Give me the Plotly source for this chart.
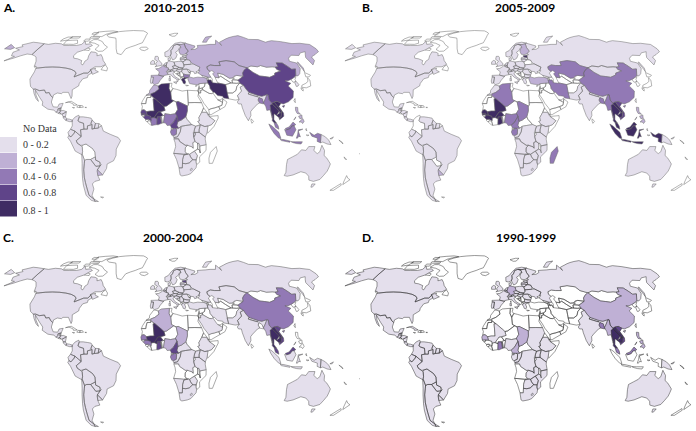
import plotly.graph_objects as go

BINS = ["0 - 0.2", "0.2 - 0.4", "0.4 - 0.6", "0.6 - 0.8", "0.8 - 1"]
BIN_COLORS = ["#e4dfec", "#bfb0d5", "#9279b5", "#5f4489", "#3f2c63"]
TITLES = ["2010-2015", "2005-2009", "2000-2004", "1990-1999"]
TAGS = ["A.", "B.", "C.", "D."]

PANEL_A = [
 "CAN USA AK MEX GTM BLZ HND NIC CRI PAN COL VEN GUY SUR ECU PER BRA PRY ARG CHL NOR SWE DNK GBR IRL DEU NLD BEL AUT CHE POL CZE SVK HUN ITA SIC SAR PRT UKR BLR LTU LVA EST ROU IND NPL ETH KEN UGA RWA CAF COG COD AGO TZA NAM ZWE BWA ZAF LSO AUS TAS PNG NBR SLV KOR",
 "FIN FRA COR ESP URY RUS CHU SAK NZM KAZ TUR MAR PHL PHL2 PHL3 PHL4",
 "BGR MMR MYS MYS2 SUM JAV BOR CEL NGI NGA GAB CIV BGD SUN",
 "CHN HAI TCD SEN GIN GMB GHA CMR",
 "IRN DZA MLI BFA THA LAO KHM VNM GRC",
]
PANEL_B = [
 "CAN USA AK MEX GTM BLZ HND NIC CRI PAN VEN GUY SUR ECU PER BRA BOL ARG CHL NOR SWE DNK GBR IRL DEU NLD BEL AUT CHE POL CZE SVK HUN ITA SIC SAR PRT ESP FRA COR UKR LTU LVA ROU BGR GRC RUS CHU SAK NZM MNG PAK IND NPL MAR ETH KEN UGA COG COD AGO TZA ZMB NAM ZWE MOZ BWA ZAF LSO AUS TAS PNG NBR",
 "FIN URY TUR PHL PHL2 PHL3 PHL4",
 "KAZ CHN HAI IRN MMR BGD DZA NGA TCD CMR GAB MDG",
 "VNM",
 "EST THA LAO KHM MYS MYS2 SUM JAV BOR CEL NGI SUN MLI SEN GMB GIN BFA GHA",
]
PANEL_C = [
 "CAN USA AK MEX GTM BLZ HND NIC CRI PAN SLV COL VEN GUY SUR GUF ECU PER BRA BOL PRY URY ARG CHL NOR SWE FIN DNK GBR IRL DEU NLD BEL FRA COR ESP PRT ITA SIC SAR AUT CHE POL CZE SVK HUN ROU BGR GRC UKR BLR LTU LVA HRV SRB RUS CHU SAK NZM KAZ TUR IRN PAK IND NPL SAU ETH KEN UGA COG COD TZA ZWE NAM BWA ZAF LSO CAF AUS TAS PNG NBR SUM JAV BOR CEL NGI SUN",
 "DZA NGA TCD MMR",
 "CHN HAI SEN GIN GAB",
 "EST VNM MYS MYS2 GHA CMR",
 "MLI BFA THA LAO KHM",
]
PANEL_D = [
 "CAN USA AK MEX GTM BLZ HND NIC CRI PAN SLV CUB COL VEN GUY SUR GUF ECU PER BRA BOL PRY URY ARG CHL NOR SWE FIN DNK GBR IRL NLD BEL FRA COR ESP PRT ITA SIC SAR AUT CHE POL CZE SVK HUN ROU BGR GRC UKR BLR LTU LVA EST RUS CHU SAK NZM IND NPL MLI NGA SDN ETH KEN UGA COD TZA ZMB ZWE BWA ZAF LSO MOZ GAB COG AUS TAS PNG NBR",
 "CHN HAI DEU MMR PHL PHL2 PHL3 PHL4 SEN TCD CMR",
 "GHA MYS MYS2 BGD",
 "VNM",
 "THA LAO KHM",
]
PANELS = [PANEL_A, PANEL_B, PANEL_C, PANEL_D]

SHAPES = {
"CAN":[(-141,69.6),(-135,69),(-128,70),(-120,69.5),(-115,68),(-108,68),(-100,68),(-95,69),(-94,72),(-90,69),(-85,69.5),(-81,68),(-87,64),(-93,62),(-94.5,59),(-92.5,57),(-88,56.5),(-82.5,55),(-82,53),(-80,51.5),(-79,52),(-79,54.5),(-77,56),(-78,59),(-78,62.4),(-73,62),(-70,61),(-69,59),(-65,60),(-62,57.5),(-60,55),(-56,52),(-60,50),(-66,50),(-70,47.5),(-65,49),(-65,47.5),(-61,46),(-66,44),(-67,45),(-69,47.3),(-71,45),(-75,45),(-79,43.5),(-83,42),(-82.5,45),(-84.5,46.5),(-89,48),(-95,49),(-123,49),(-128,51),(-130,54.5),(-134,58),(-137,59),(-141,60)],
"USA":[(-123,49),(-95,49),(-89,48),(-84.5,46.5),(-82.5,45),(-83,42),(-79,43.5),(-75,45),(-71,45),(-69,47.3),(-67,45),(-70,43.5),(-70,41.5),(-74,40.5),(-76,37),(-76,35),(-81,32),(-80,27),(-80.5,25.2),(-82.5,28),(-84,30),(-89,30),(-90,29),(-94,29.5),(-97,28),(-97.2,26),(-99.5,27.5),(-101.5,29.8),(-104.5,29.5),(-106.5,31.8),(-111,31.3),(-114.8,32.5),(-117.1,32.5),(-120.5,34.5),(-122.5,37.5),(-124.3,40.3),(-124,46),(-124.7,48.4)],
"AK":[(-141,69.6),(-141,60),(-147,60.5),(-152,59),(-157,57),(-164,54.8),(-158,58.5),(-162,59),(-165,62),(-161,64),(-168,65.5),(-162,67),(-166,68.5),(-157,71),(-150,70.5)],
"MEX":[(-117.1,32.5),(-114.8,32.5),(-111,31.3),(-106.5,31.8),(-104.5,29.5),(-101.5,29.8),(-99.5,27.5),(-97.2,26),(-97.8,22.5),(-95.5,18.8),(-91.5,18.5),(-90.5,21),(-87,21.5),(-88.2,18),(-89.1,17.8),(-91,17.2),(-90.9,16),(-92.2,14.5),(-94.5,16.2),(-100,17),(-105.5,20),(-105.5,22.5),(-109,26),(-112.5,29.5),(-114.7,31.7),(-113,28),(-110,24),(-109.5,23),(-112,25),(-115,29),(-116.5,31.5)],
"GTM":[(-92.2,14.5),(-90.9,16),(-91,17.2),(-89.1,17.8),(-89.2,15.9),(-88.3,15.7),(-89.3,14.4),(-90.3,13.8)],
"BLZ":[(-89.1,17.8),(-88.2,18),(-88.3,16),(-89.2,15.9)],
"SLV":[(-90.3,13.8),(-89.3,14.4),(-87.8,13.4),(-88.5,13.2)],
"HND":[(-89.3,14.4),(-88.3,15.7),(-86,16),(-83.2,15),(-85,14),(-87,13),(-87.8,13.4)],
"NIC":[(-87,13),(-85,14),(-83.2,15),(-83.7,11),(-85.7,11.1)],
"CRI":[(-85.7,11.1),(-83.7,11),(-82.6,9.5),(-83,8.2),(-85.5,10)],
"PAN":[(-83,8.2),(-82.6,9.5),(-80,9.2),(-77.5,8.5),(-77.5,7.3),(-80,7.3)],
"CUB":[(-85,22),(-80,23.1),(-74.2,20.2),(-77.5,19.9),(-78,21),(-82,22.5)],
"HTI":[(-74.4,18.5),(-71.7,18.2),(-71.7,19.8),(-73.5,19.9)],
"DOM":[(-71.7,18.2),(-68.5,18.5),(-69.5,19.7),(-71.7,19.8)],
"JAM":[(-78.3,18.3),(-76.3,18.1),(-77,17.8)],
"PRI":[(-67.2,18.4),(-65.7,18.4),(-66,18)],
"HAW":[(-156,20),(-155,19.7),(-155.7,19)],
"COL":[(-77.5,8.5),(-75,11),(-72,12.3),(-71.5,11),(-72.5,8),(-71,7),(-67.5,6),(-67,1.5),(-70,1),(-69.5,-4.2),(-72,-2.3),(-75,0),(-78.8,1.4),(-77.3,4),(-77.5,7)],
"VEN":[(-71.5,11),(-68,11),(-64,10.5),(-61,10),(-60,8.5),(-61,6),(-60.5,5),(-64,4),(-64,1.5),(-67,1.5),(-67.5,6),(-71,7),(-72.5,8)],
"GUY":[(-60,8.5),(-57,6),(-58,2),(-60,1.5),(-60,5),(-61,6)],
"SUR":[(-57,6),(-54,5.8),(-54.5,2.3),(-58,2)],
"GUF":[(-54,5.8),(-51.7,4.2),(-54.5,2.3)],
"ECU":[(-78.8,1.4),(-75,0),(-75.5,-1.5),(-78.5,-4.5),(-80.3,-3.4),(-81,-1)],
"PER":[(-75,0),(-72,-2.3),(-69.5,-4.2),(-74,-7.5),(-73,-9.5),(-70.5,-11),(-69,-12.5),(-69,-16),(-70,-18.3),(-75.5,-15.5),(-79,-8),(-81.3,-5),(-80.3,-3.4),(-78.5,-4.5),(-75.5,-1.5)],
"BOL":[(-69,-11),(-65.5,-10),(-60,-13.5),(-58,-16.3),(-58,-20),(-62.5,-22),(-66,-22),(-68,-22.8),(-69.5,-18),(-69,-16),(-69,-12.5)],
"BRA":[(-60,5),(-60,1.5),(-58,2),(-54.5,2.3),(-51.7,4.2),(-50,0),(-44,-2.5),(-37,-5),(-35,-7.5),(-39,-14),(-39.5,-19),(-42,-23),(-48,-25.5),(-49,-29),(-53.5,-34),(-57.5,-30),(-53.7,-26),(-54.5,-24),(-58,-22.5),(-58,-20),(-58,-16.3),(-60,-13.5),(-65.5,-10),(-69,-11),(-70.5,-11),(-73,-9.5),(-74,-7.5),(-69.5,-4.2),(-70,1),(-67,1.5),(-64,1.5),(-64,4)],
"PRY":[(-58,-20),(-58,-22.5),(-54.5,-24),(-54.7,-27),(-58.5,-27.3),(-62.5,-22)],
"URY":[(-57.5,-30),(-53.5,-34),(-58,-34.5),(-58,-31)],
"ARG":[(-66,-22),(-62.5,-22),(-58.5,-27.3),(-54.7,-27),(-53.7,-26),(-57.5,-30),(-58,-34.5),(-57,-38),(-62,-39),(-65,-41),(-65,-45),(-69,-50),(-68.5,-53),(-65,-55),(-68.5,-55),(-68.5,-53),(-72,-50),(-71.5,-44),(-71,-36),(-70,-30),(-68.5,-25),(-68,-22.8)],
"CHL":[(-70,-18.3),(-69.5,-18),(-68,-22.8),(-68.5,-25),(-70,-30),(-71,-36),(-71.5,-44),(-72,-50),(-68.5,-53),(-68.5,-55),(-72,-54),(-75,-50),(-74,-42),(-73,-37),(-71.5,-30),(-70.5,-25)],
"FLK":[(-61,-51.3),(-58,-51.4),(-59,-52.2)],
"GRL":[(-73,78),(-68,76),(-58,75),(-54,70),(-51,65),(-48,61),(-43,60),(-40,65),(-30,68),(-22,70.5),(-20,75),(-18,80),(-25,83),(-40,83.5),(-60,82),(-68,80)],
"BAF":[(-80,73.5),(-72,71.5),(-68,69),(-62,66.5),(-65,63),(-70,62.8),(-75,64.5),(-73,68),(-80,70),(-88,71),(-85,73.5)],
"VIC":[(-117,69),(-105,69),(-101,70),(-105,73),(-118,72.5)],
"BNK":[(-125,72),(-118,73),(-116,76),(-122,76),(-125,74)],
"ELL":[(-90,77),(-78,76.5),(-75,79),(-62,82),(-70,83),(-90,81.5)],
"DEV":[(-92,75),(-80,74.5),(-80,75.8),(-92,76.5)],
"MEL":[(-117,75),(-106,75),(-106,76.5),(-117,76.5)],
"SOM2":[(-96,72),(-90,72),(-90,74),(-96,74)],
"AXL":[(-95,79),(-88,79),(-88,81),(-95,81)],
"SHI":[(-87,64),(-81,63.5),(-81,65),(-86,66)],
"NFL":[(-59,47.7),(-53,46.7),(-53,49),(-56,51.5),(-58,50)],
"VAN":[(-128.3,50.7),(-125,50),(-123.5,48.4),(-125.5,48.9)],
"ISL":[(-24,65.5),(-22,64),(-18,63.4),(-14,65),(-16,66.5),(-22,66.4)],
"SVA":[(12,78.5),(20,80),(25,80),(20,77),(16,76.8)],
"IRL":[(-10,52),(-6,52),(-6,54.5),(-8,55.2),(-10,54)],
"GBR":[(-5.5,50),(1.5,51.2),(1.7,52.7),(-0.2,54),(-2,56),(-2,57.6),(-3,58.6),(-5.5,58.5),(-6,56),(-3,54.5),(-4.5,53),(-5,52),(-3.5,51.3)],
"NOR":[(5,58.5),(7.5,58),(11,59),(12,61),(12,63.5),(14,65),(16,68),(20,69),(25,68.8),(29,69.5),(31,70.3),(25,71),(18,70),(13,67),(9,63.5),(5,62)],
"SWE":[(11,59),(13,55.5),(14.5,56),(16.5,57),(18.5,60),(17,62),(21,64),(22,65.8),(24,66),(23.5,68),(20,69),(16,68),(14,65),(12,63.5),(12,61)],
"FIN":[(24,66),(22,65),(21,62.5),(22,60.3),(25,60),(28,60.5),(31.5,63),(29.5,66),(29,69.5),(25,68.8),(20.5,69),(23.5,68)],
"DNK":[(8.2,55),(10,55),(10.8,56.3),(10.5,57.6),(8.2,57)],
"DEU":[(6,51),(7,53.5),(9,54.8),(14.2,53.9),(15,51),(12.2,50.3),(13.7,48.6),(10,47.4),(7.6,47.6),(8.2,49),(6.3,49.5)],
"NLD":[(3.5,51.4),(6,51),(7,53.5),(4.8,53)],
"BEL":[(2.6,51),(3.5,51.4),(6,51),(6.3,49.5),(4.5,50)],
"FRA":[(-1.8,43.4),(-1,46),(-4.7,48.4),(-1.5,48.7),(1.5,50.2),(2.6,51),(4.5,50),(6.3,49.5),(8.2,49),(7.6,47.6),(6,46.3),(7.5,43.8),(3.2,43),(3.2,42.4)],
"COR":[(8.6,42),(9.4,43),(9.5,41.5)],
"ESP":[(-9,43.2),(-1.8,43.4),(3.2,42.4),(0,39.5),(-2,36.8),(-5.5,36),(-7.3,37.2),(-7,39),(-6.5,41.8),(-8.8,42)],
"PRT":[(-8.8,42),(-6.5,41.8),(-7,39),(-7.3,37.2),(-9,37),(-9.5,38.8)],
"CHE":[(6,46.3),(7.6,47.6),(10,47.4),(10,46.3),(8,46)],
"ITA":[(7.5,43.8),(7,45.5),(8,46),(10,46.3),(12.5,47),(13.7,45.6),(12.3,44.8),(14,42.3),(18.4,40),(16.7,40),(17,39),(16,38),(15.8,40),(12,42),(10,44)],
"SIC":[(12.5,38),(15.5,38.2),(15,36.7)],
"SAR":[(8.2,39),(9.7,39),(9.5,41),(8.3,41)],
"AUT":[(10,47.4),(13.7,48.6),(17,48.5),(16,46.8),(13.7,46.5),(12.5,47),(10,46.3)],
"POL":[(14.2,53.9),(19,54.4),(23,54.3),(24,52),(24,50.4),(22.5,49),(19,49.4),(15,51)],
"CZE":[(12.2,50.3),(15,51),(18.8,49.6),(17,48.7),(13.7,48.6)],
"SVK":[(17,48.5),(18.8,49.6),(22.5,49),(22,48.4),(18,47.8)],
"HUN":[(16,46.8),(17,48),(18,47.8),(22,48.4),(21,46.2),(18.8,45.9)],
"HRV":[(13.7,45.6),(13.7,46.5),(16,46.8),(18.8,45.9),(19,45),(16,44.8),(18.5,42.5),(15,44.5)],
"BIH":[(16,44.8),(19,45),(19,43),(18.5,42.5)],
"SRB":[(18.8,45.9),(21,46.2),(22.5,44.3),(22.5,42.3),(20.5,42),(19.3,42),(19,43),(19,45)],
"ALB":[(19.3,42),(20.5,42),(21,40.5),(20,39.7),(19.4,40.5)],
"MKD":[(20.5,42),(22.5,42.3),(23,41.3),(21,40.5)],
"GRC":[(20,39.7),(21,40.5),(23,41.3),(26.3,41.5),(24,40.5),(23,40),(24,38),(23,36.5),(21.5,37),(21,38.5)],
"CRT":[(23.5,35.6),(26.2,35.3),(24.5,35)],
"BGR":[(22.5,44.3),(25,43.7),(28.5,43.5),(27.8,42),(26.3,41.5),(23,41.3),(22.5,42.3)],
"ROU":[(21,46.2),(22,48.4),(23,48),(26.5,48.2),(28,45.5),(29.5,45),(28.5,43.5),(25,43.7),(22.5,44.3)],
"MDA":[(26.5,48.2),(29,47.5),(30,46),(28,45.5)],
"UKR":[(24,50.4),(24,51.6),(31,52),(34,52.3),(40,49.7),(38,47),(35,46),(36.5,45.3),(33.5,44.5),(33,46),(30.7,46.4),(29.5,45.4),(28,45.5),(30,46),(29,47.5),(26.5,48.2),(23,48),(22.5,49)],
"BLR":[(24,51.6),(23.5,53.9),(27,55.7),(30.8,55.5),(32,53.2),(31,52)],
"LTU":[(21,55.3),(21,56.3),(25,56.3),(27,55.7),(23.5,53.9),(23,54.3)],
"LVA":[(21,56.3),(21.5,57.5),(24.4,58),(27.7,57.5),(28,56),(27,55.7),(25,56.3)],
"EST":[(23.5,59),(28,59.4),(27.7,57.5),(24.4,58)],
"TUR":[(26.3,40),(26.3,41.5),(28,42),(31.5,41.2),(36,41.8),(41.5,41.5),(43.7,41),(44.5,39.5),(44.7,37.3),(42,37.2),(36,36.7),(36,36),(33,36.1),(30.5,36.3),(27.5,36.8)],
"CYP":[(32.4,34.9),(34.5,35.6),(33.7,34.7)],
"RUS":[(28,59.4),(28,56),(30.8,55.5),(32,53.2),(34,52.3),(40,49.7),(38,47),(39,47),(37,45),(40,43.3),(46,41.8),(48.5,41.8),(47,45),(49,46.3),(47,48),(47,50),(51,51.5),(55,51),(61,51),(61,54),(69,55),(77,54),(80,51),(87,49.2),(92,50.7),(98,50),(102,51),(107,49.7),(113,50),(116,49.8),(119,50),(120,53.2),(126,53),(131,48),(135,48.3),(131,43),(133,42.8),(136,44.5),(140,48.5),(141,53),(135,54.5),(137,57),(143,59.5),(151,59.2),(156,61.5),(163,62.5),(156,57.5),(156,51.5),(162,55),(163,58),(170,60),(178,62.5),(179.9,65),(179.9,68.9),(170,70),(160,69.7),(150,71.5),(140,72.5),(130,71),(125,73.5),(113,73.7),(105,77.5),(90,75.5),(80,73),(73,71),(73,68),(70,73),(66.5,69),(60,69),(54,68.5),(44,68),(44,66.2),(40,64.6),(35,64.3),(40,66.2),(41,67.5),(33,69.5),(31,70),(29,69.5),(29.5,66),(31.5,63),(28,60.5),(30,60)],
"CHU":[(-179.9,65),(-172,64.5),(-170,66),(-175,67.5),(-179.9,69)],
"SAK":[(142,46),(143.5,49),(143,54),(142,53),(142,48)],
"NZM":[(52,71),(57,71),(69,77),(60,76),(55,73)],
"KAZ":[(47,50),(47,48),(49,46.3),(51,47),(53,45.5),(51,44.5),(52.5,41.8),(56,41.3),(56,45),(61,44),(66,41),(69,41.2),(71,42.5),(74,43.2),(80,42.5),(80.5,45),(83,47.2),(87,49.2),(80,51),(77,54),(69,55),(61,54),(61,51),(55,51),(51,51.5)],
"TKM":[(52.5,41.8),(53,40),(54,37.3),(61,36),(66.5,37.3),(62,40),(58,42.7),(56,41.3)],
"UZB":[(56,41.3),(56,45),(61,44),(66,41),(69,41.2),(71,41),(68,39.5),(67.8,37.2),(66.5,37.3),(62,40),(58,42.7)],
"KGZ":[(69.5,41),(71,42.5),(74,43.2),(80,42.5),(73.5,39.5),(69.5,40)],
"TJK":[(68,39.5),(73.5,39.5),(75,37.5),(71.5,37),(67.8,37.2)],
"AFG":[(61,36),(66.5,37.3),(71.5,37),(74.5,37.2),(71,34.5),(69.5,31.5),(66,29.5),(61,29.5),(61,32)],
"PAK":[(61,29.5),(66,29.5),(69.5,31.5),(71,34.5),(74.5,37.2),(77.5,35.5),(74,34),(74.5,31),(70,27.5),(71,24.5),(67.5,24),(61.6,25)],
"IND":[(74,34),(77.5,35.5),(79,32.5),(81,30),(80,28.7),(88,26.5),(89,27.5),(92,27),(97,28.3),(94,24),(92.5,22),(91.5,24.5),(89,26),(88,24),(89,21.7),(87,21),(82,17),(80,15),(80,12),(77.5,8),(75,12),(73,18),(72.5,21),(70,21),(69,22.5),(71,24.5),(70,27.5),(74.5,31)],
"NPL":[(81,30),(88,27.8),(88,26.5),(80,28.7)],
"BGD":[(88,24),(89,26),(92,25),(92.5,21),(89,21.7)],
"LKA":[(80,9.5),(82,7.5),(80.5,6),(79.8,8)],
"CHN":[(74,39.5),(80,42.5),(80.5,45),(83,47.2),(87,49.2),(91,45.5),(96,42.7),(105,41.7),(111,43.5),(112,45),(119,46.7),(116,48),(116,49.8),(119,50),(120,53.2),(126,53),(131,48),(135,48.3),(131,43),(128,41.5),(124.3,40),(121,39),(118,39),(122.5,37),(119,35),(122,31),(120,26),(115,22.7),(110,21),(108,21.6),(105,23),(102,22.5),(100,21.5),(98,24),(98,28),(97,28.3),(92,27),(89,27.5),(88,27.8),(81,30),(79,32.5),(77.5,35.5),(74.5,37.2),(75,37.5),(73.5,39.5)],
"HAI":[(108.7,19.3),(111,20),(110,18.3)],
"TWN":[(120,23.5),(121.5,25.2),(121,22)],
"MNG":[(87,49.2),(92,50.7),(98,50),(102,51),(107,49.7),(113,50),(116,49.8),(116,48),(119,46.7),(112,45),(111,43.5),(105,41.7),(96,42.7),(91,45.5)],
"PRK":[(124.3,40),(128,41.5),(130.7,42.3),(128,39.8),(128.3,38.6),(125,37.8)],
"KOR":[(126.5,37.7),(128.3,38.6),(129.5,36),(128,34.8),(126.3,34.6)],
"JPN":[(131,34),(135,33.5),(140,35),(142,39.5),(141,41.3),(139.5,38.5),(136.5,37),(132,35.5)],
"HOK":[(140,42),(141.5,45.5),(145.5,43.3),(143,42)],
"KYU":[(130,33.5),(131.8,33),(131,31),(130,32)],
"MMR":[(92.5,22),(94,24),(97,28.3),(98,28),(98,24),(100,21.5),(98,18),(99,11),(98.5,10),(97.5,16.5),(94.5,16),(94,19)],
"THA":[(98,20),(100,21),(103,18),(105.5,15.5),(102.5,12),(100.5,13.5),(100,9),(102,6.3),(100,6.5),(98.5,8),(99,11),(98,16),(98,18)],
"LAO":[(100,21.5),(102,22.5),(104,20),(107,16),(107.5,14.5),(105.5,14),(105.5,15.5),(103,18),(100,21)],
"KHM":[(102.5,12),(105.5,14),(107.5,14.5),(106.5,11),(104.5,10.5)],
"VNM":[(102,22.5),(105,23),(108,21.6),(105.7,19),(109,14),(109,11.5),(105,8.7),(104.5,10.5),(106.5,11),(107.5,14.5),(107,16),(104,20)],
"MYS":[(100,6.5),(102,6.3),(103.5,4),(104,1.4),(101,3)],
"MYS2":[(109.6,2),(113,3.2),(116.7,7),(119,5),(117.5,4.2),(115.5,4),(114,2),(111,1)],
"SUM":[(95.3,5.5),(98,4),(104,-1),(106,-5.8),(104,-5.5),(100,-2),(97,2)],
"JAV":[(105.3,-6.5),(108,-6.5),(114.5,-7.8),(114,-8.7),(106.5,-7.4)],
"BOR":[(109,1.2),(111,1),(114,2),(115.5,4),(117.5,4.2),(119,1),(116,-4),(111,-3.2),(110,-1)],
"CEL":[(119.5,-5.5),(120.5,-2.5),(121,1),(125,1.5),(121,0),(123,-4.5),(121.5,-4),(120.5,-5.5)],
"NGI":[(131,-1),(135,-3.3),(138,-1.7),(141,-2.6),(141,-9.1),(138,-8),(138,-5.5),(133,-4)],
"SUN":[(115,-8.2),(119,-8.3),(125,-8.3),(124,-10),(120,-9.7),(117,-9)],
"SER":[(128,-3),(130.5,-3.2),(129,-3.6)],
"HAL":[(127.5,1),(128,2),(128.5,0)],
"PNG":[(141,-2.6),(145,-4.5),(148,-7),(150.5,-10.5),(147,-10),(143,-8.5),(141,-9.1)],
"NBR":[(149,-6),(152,-4.5),(151,-6)],
"PHL":[(120.3,18.5),(122.3,18.3),(122,15),(124,13),(121,13.7),(120,16)],
"PHL2":[(122,7),(125.5,9.7),(126.5,7.5),(125,5.8),(124,7)],
"PHL3":[(122,11.5),(125,12.5),(125,10),(123,9.5)],
"PHL4":[(117.5,8.5),(119.5,11),(119,10)],
"SYR":[(36,36),(36,36.7),(42,37.2),(41,34.5),(38.8,33.4),(36,32.8),(36,33.5)],
"LBN":[(35.2,33.1),(36,34.6),(36,33.5)],
"ISR":[(34.3,31.3),(35.2,33.1),(35.5,33),(35,29.6)],
"JOR":[(35,29.6),(35.5,32.5),(36,32.8),(38.8,33.4),(39,32),(37,31.5),(36.8,29.5)],
"IRQ":[(42,37.2),(44.7,37.3),(46,35),(46,33),(48.5,30),(48,29.5),(46.5,29),(44.5,29.2),(39,32),(38.8,33.4),(41,34.5)],
"SAU":[(34.8,29.5),(36.8,29.5),(37,31.5),(39,32),(44.5,29.2),(46.5,29),(48,29.5),(50,26.5),(51.5,24.5),(55,22.7),(55.7,22),(55,20),(52,19),(48.5,18),(45,17.3),(43,16.5),(42,18),(39,21.5),(37,25),(34.8,28)],
"YEM":[(43,16.5),(45,17.3),(48.5,18),(52,19),(53,16.7),(45,12.8),(43.5,12.7)],
"OMN":[(52,19),(55,20),(55.7,22),(56.3,24.9),(59.8,22.5),(57.5,18.8),(53,16.7)],
"ARE":[(51.5,24.2),(54.5,24.2),(56.3,25.8),(56.3,24.9),(55.7,22),(55,22.7)],
"IRN":[(44.5,39.5),(48,39.6),(49,37.5),(54,37),(54,37.3),(61,36),(61,32),(61,29.5),(61.6,25),(57.3,25.7),(56.5,27),(52,27.5),(49.5,30),(48.5,30),(46,33),(46,35),(44.7,37.3)],
"GEO":[(40,43.3),(46,41.8),(43.7,41),(41.5,41.5)],
"ARM":[(43.7,41),(45.5,41),(46.5,39),(44.5,39.8)],
"AZE":[(45.5,41),(46,41.8),(48.5,41.8),(49.5,40.3),(49,37.5),(48,39.6),(46.5,39)],
"MAR":[(-9.8,31.5),(-6,35.8),(-2,35),(-1.2,32.5),(-5,30),(-8.7,28.7),(-13,27.7),(-10,29.5)],
"ESH":[(-13,27.7),(-8.7,27.7),(-8.7,26),(-12,26),(-13,21.3),(-17,21.3),(-16,23.5)],
"DZA":[(-1.2,32.5),(-2,35),(1,36.5),(8.5,37),(8,33),(9.5,30),(10,24.5),(12,23.5),(5.7,19.5),(3.2,19),(1,20.8),(-4.8,25),(-8.7,27.7),(-8.7,28.7),(-5,30)],
"TUN":[(8.5,37),(11,37),(10.2,34.3),(11.5,33),(9.5,30),(8,33)],
"LBY":[(11.5,33),(15,32.3),(20,31),(25,31.6),(25,20),(24,19.5),(16,23),(14.2,22.6),(12,23.5),(10,24.5),(9.5,30)],
"EGY":[(25,31.6),(32,31.3),(34.3,31.3),(35,29.6),(34,27),(37,22),(25,22)],
"MRT":[(-17,21.3),(-13,21.3),(-13,23),(-12,26),(-8.7,26),(-8.7,27.3),(-4.8,25),(-6.5,25),(-5.5,15.5),(-9,15.5),(-12.2,15),(-14.5,16.6),(-16.5,16.2),(-16,19)],
"MLI":[(-12.2,15),(-9,15.5),(-5.5,15.5),(-6.5,25),(-4.8,25),(1,20.8),(3.2,19),(4.2,16),(0,15),(-2,14.8),(-5.5,10.5),(-8,10.2),(-8.5,11.5),(-11.5,12.3)],
"SEN":[(-16.5,16.2),(-14.5,16.6),(-12.2,15),(-11.5,12.3),(-13.7,12.6),(-16.7,12.4),(-17.3,14.7)],
"GMB":[(-16.7,13.6),(-14,13.8),(-14,13.2),(-16.7,13.1)],
"GNB":[(-16.7,12.4),(-13.7,12.6),(-13.7,11.7),(-15.5,11)],
"GIN":[(-13.7,12.6),(-11.5,12.3),(-8.5,11.5),(-8,10.2),(-8,8),(-9.5,8.5),(-10.7,9.2),(-13,9),(-15,10.8),(-13.7,11.7)],
"SLE":[(-13,9),(-10.7,9.2),(-10.6,8),(-11.5,7),(-13,8)],
"LBR":[(-11.5,7),(-10.6,8),(-8.5,7.6),(-7.5,4.4),(-9,5)],
"CIV":[(-8,10.2),(-5.5,10.5),(-2.8,9.5),(-3,5),(-7.5,4.4),(-8.5,7.6)],
"BFA":[(-5.5,10.5),(-2,14.8),(0,15),(2.3,12.3),(0,11),(-2.8,11),(-2.8,9.5)],
"GHA":[(-2.8,11),(0,11),(0.7,8),(1,6),(-2,4.8),(-3,5)],
"TGO":[(0,11),(1,10.8),(1.7,6.2),(1,6),(0.7,8)],
"BEN":[(1,10.8),(2.3,12.3),(3.7,11.7),(2.7,6.4),(1.7,6.2)],
"NER":[(0,15),(4.2,16),(3.2,19),(5.7,19.5),(12,23.5),(14.2,22.6),(15.5,16.8),(13.5,14),(13.5,13.5),(9,12.8),(4,13.5),(3.7,11.7),(2.3,12.3)],
"NGA":[(2.7,6.4),(3.7,11.7),(4,13.5),(9,12.8),(13.5,13.5),(14.7,11.5),(11.5,6.7),(8.7,4.6),(6,4.3),(4.5,6.2)],
"TCD":[(14.2,22.6),(16,23),(24,19.5),(24,15.7),(22.5,11),(18.5,8.5),(15.5,7.5),(15,10),(14.7,11.5),(13.5,13.5),(13.5,14),(15.5,16.8)],
"SDN":[(25,22),(37,22),(38.5,18),(36.5,14.3),(34,10.5),(34.5,8),(33,7.5),(35,5),(31,3.7),(27.5,5),(23.5,9),(22.5,11),(24,15.7),(24,19.5),(25,20)],
"ERI":[(36.5,14.3),(38.5,18),(43,12.5),(41,14.5),(37,14.5)],
"DJI":[(42,12.8),(43.3,12.5),(43,11.3),(41.9,11.5)],
"ETH":[(36.5,14.3),(37,14.5),(41,14.5),(42,12.5),(43,11.3),(48,8),(45,5),(41.9,4),(39,3.5),(35,5),(33,7.5),(34.5,8),(34,10.5)],
"SOM":[(43,11.3),(51,12),(51,10),(47,3.5),(41.5,-1.7),(41,-1),(41,3.5),(41.9,4),(45,5),(48,8)],
"KEN":[(35,5),(39,3.5),(41.9,4),(41,-1),(39.5,-4.6),(34,-1),(34,1),(35,4.5)],
"UGA":[(31,3.7),(35,4.5),(34,1),(34,-1),(30,-1.2),(30,1.5)],
"RWA":[(29,-1.2),(30.5,-1.2),(30.8,-2.4),(30,-4.3),(29.2,-4.3)],
"TZA":[(30,-1),(34,-1),(39.5,-4.6),(39.5,-6.5),(40.4,-10.5),(35,-11.5),(34,-9.5),(32.7,-9.3),(30.5,-8),(29.3,-4.5),(30.8,-2.4)],
"CMR":[(8.7,4.6),(11.5,6.7),(14.7,11.5),(15,10),(15.5,7.5),(14.5,4.5),(16,2.2),(13,2.2),(9.8,2.3)],
"GNQ":[(9.4,2.2),(11.3,2.2),(11.3,1),(9.5,1)],
"GAB":[(8.8,-0.7),(9.5,1),(11.3,1),(11.3,2.2),(13,2.2),(14.3,1.3),(14,-2.5),(11.5,-3.5),(10,-3.2)],
"COG":[(11.2,-4.5),(11.5,-3.5),(14,-2.5),(14.3,1.3),(13,2.2),(16,2.2),(18,3.5),(17.5,-0.5),(16,-3),(15,-4.5),(12,-5)],
"CAF":[(14.5,4.5),(15.5,7.5),(18.5,8.5),(22.5,11),(23.5,9),(27.5,5),(22,4.3),(18.5,3.7),(16,2.2)],
"COD":[(12.2,-6),(16,-6),(17,-8),(22,-11),(24,-11),(28,-12.2),(29,-13.3),(28.5,-9),(30.5,-8),(29.3,-4.5),(29,-1.2),(30,1.5),(31,3.7),(27.5,5),(22,4.3),(18.5,3.7),(17.5,-0.5),(16,-3),(15,-4.5),(12,-5)],
"AGO":[(11.8,-6),(12.2,-6),(16,-6),(17,-8),(22,-11),(24,-11),(22,-13),(22,-16),(23.5,-17.5),(21,-18),(14,-17.4),(11.8,-17.3),(13.5,-12),(13,-9)],
"ZMB":[(22,-13),(24,-11),(28,-12.2),(29,-13.3),(28.5,-9),(30.5,-8),(32.7,-9.3),(33,-11),(33,-14),(30,-15.5),(26,-18),(23.5,-17.5),(22,-16)],
"MWI":[(32.7,-9.3),(34,-9.5),(35,-14),(35.5,-17),(34.5,-14.5),(33,-14),(33,-11)],
"MOZ":[(35,-11.5),(40.4,-10.5),(40.5,-15),(35,-20),(35.5,-24),(32.8,-26),(32,-24),(33,-19),(30.3,-15.6),(33,-14),(34.5,-14.5),(35.5,-17),(35,-14)],
"ZWE":[(26,-18),(30.3,-15.6),(33,-19),(32,-22.3),(29,-22.2),(27,-20)],
"NAM":[(11.8,-17.3),(14,-17.4),(21,-18),(25,-17.8),(21,-18.5),(20,-22),(20,-28.5),(17,-28.5),(14.5,-22)],
"BWA":[(20,-22),(21,-18.5),(25,-17.8),(26,-18),(27,-20),(29,-22.2),(26,-24.7),(23,-25.3),(20,-25)],
"ZAF":[(17,-28.5),(20,-28.5),(20,-25),(23,-25.3),(26,-24.7),(29,-22.2),(32,-22.3),(32,-24),(32.8,-26),(32.5,-28.5),(28,-33),(25,-34),(20,-34.8),(18.3,-34)],
"LSO":[(27,-30),(28.5,-28.7),(29.3,-29.7),(28,-30.6)],
"MDG":[(49.3,-12),(50.5,-15.5),(47,-25),(44,-25),(43.5,-21),(44.5,-16.5)],
"AUS":[(114,-22),(114,-26),(115.5,-32),(115,-34.5),(118,-35),(123,-34),(129,-31.5),(134,-32.5),(138,-35),(140,-38),(145,-39),(150,-37.5),(153,-31),(153.5,-25.5),(149,-21),(146,-19),(145.5,-15),(142.5,-11),(141.5,-16),(139.5,-17.5),(136,-15),(136.5,-12),(131,-12),(129,-15),(125,-14.5),(122,-18),(118,-20)],
"TAS":[(145,-41),(148.2,-41),(147.5,-43.5),(146,-43.5)],
"NZN":[(173,-34.5),(175.5,-36.5),(178.5,-37.7),(175,-41.5),(174,-39.5)],
"NZS":[(172.5,-40.7),(174,-42),(170.5,-46),(167,-46),(170,-43)],
"SOL":[(157,-7),(160,-8.5),(161,-10)],
"NCL":[(164,-20),(167,-22),(165.5,-21.8)],
"FJI":[(177.3,-17.5),(178.6,-17.6),(178,-18.3)],
}

# pixel viewport of each panel; the map centre sits in the middle of it
AXES = [
 dict(x=(0, 360), y=(21.5, 204.5), lon=17.4),
 dict(x=(336, 696), y=(21.5, 204.5), lon=13),
 dict(x=(0, 360), y=(246.5, 429.5), lon=17.4),
 dict(x=(336, 696), y=(246.5, 429.5), lon=13),
]
CENTER_LAT = 14
W, H = 696, 431
MAP_SCALE = 1.14
LINE_COLORS = ["#6a6a6a", "#6a6a6a", "#555555", "#333333"]


def clockwise(ring):
    area = sum(a[0] * b[1] - b[0] * a[1] for a, b in zip(ring, ring[1:] + ring[:1]))
    ring = list(ring) if area < 0 else list(reversed(ring))
    return ring + [ring[0]]


def rings_to_lonlat(names):
    lon, lat = [], []
    for n in names:
        for x, y in clockwise(SHAPES[n]):
            lon.append(x)
            lat.append(y)
        lon.append(None)
        lat.append(None)
    return lon[:-1], lat[:-1]


fig = go.Figure()
for p, panel in enumerate(PANELS):
    geo = "geo" if p == 0 else f"geo{p + 1}"
    binned = [set(s.split()) for s in panel]
    used = set().union(*binned)
    groups = [("#ffffff", [n for n in SHAPES if n not in used])]
    groups += [(BIN_COLORS[i], [n for n in SHAPES if n in binned[i]]) for i in range(5)]
    for color, names in groups:
        if not names:
            continue
        lon, lat = rings_to_lonlat(names)
        fig.add_trace(go.Scattergeo(lon=lon, lat=lat, mode="lines", fill="toself",
                                    fillcolor=color, line=dict(color=LINE_COLORS[p], width=0.5),
                                    hoverinfo="skip", showlegend=False, geo=geo))
    ax = AXES[p]
    fig.update_layout(**{geo: dict(
        domain=dict(x=[ax["x"][0] / W, ax["x"][1] / W],
                    y=[1 - ax["y"][1] / H, 1 - ax["y"][0] / H]),
        projection=dict(type="robinson", scale=MAP_SCALE, rotation=dict(lon=0)),
        center=dict(lon=ax["lon"], lat=CENTER_LAT),
        showland=False, showocean=False, showlakes=False, showrivers=False,
        showcountries=False, showcoastlines=False, showframe=False, showsubunits=False,
        bgcolor="rgba(0,0,0,0)",
    )})

ann = []
TITLE_POS = [(174, 7.5), (525, 7.5), (173, 237), (526, 237)]
TAG_POS = [(2, 7.5), (361, 7.5), (2, 237), (361, 237)]
for i in range(4):
    ann.append(dict(x=TITLE_POS[i][0] / W, y=1 - TITLE_POS[i][1] / H, text=f"<b>{TITLES[i]}</b>",
                    xanchor="center", yanchor="middle", font=dict(family="Lato", size=12, color="#000")))
    ann.append(dict(x=TAG_POS[i][0] / W, y=1 - TAG_POS[i][1] / H, text=f"<b>{TAGS[i]}</b>",
                    xanchor="left", yanchor="middle", font=dict(family="Lato", size=12, color="#000")))
LEG_Y = [129, 145, 161, 177, 193, 210]
for label, y in zip(["No Data"] + BINS, LEG_Y):
    ann.append(dict(x=22 / W, y=1 - y / H, text=label, xanchor="left", yanchor="middle",
                    font=dict(family="Liberation Serif", size=10, color="#333")))
for a in ann:
    a.update(xref="paper", yref="paper", showarrow=False, borderpad=0)
shapes = []
for i, c in enumerate(BIN_COLORS):
    y0 = 137 + i * 16
    shapes.append(dict(type="rect", xref="paper", yref="paper", x0=0, x1=17 / W,
                       y0=1 - y0 / H, y1=1 - (y0 + 15.5) / H, fillcolor=c, line=dict(width=0)))
fig.update_layout(width=W, height=H, margin=dict(l=0, r=0, t=0, b=0), paper_bgcolor="white",
                  annotations=ann, shapes=shapes)
fig.write_html("out.html", config=dict(displayModeBar=False),
               post_script="document.body.style.margin='0';document.body.style.overflow='hidden';")
